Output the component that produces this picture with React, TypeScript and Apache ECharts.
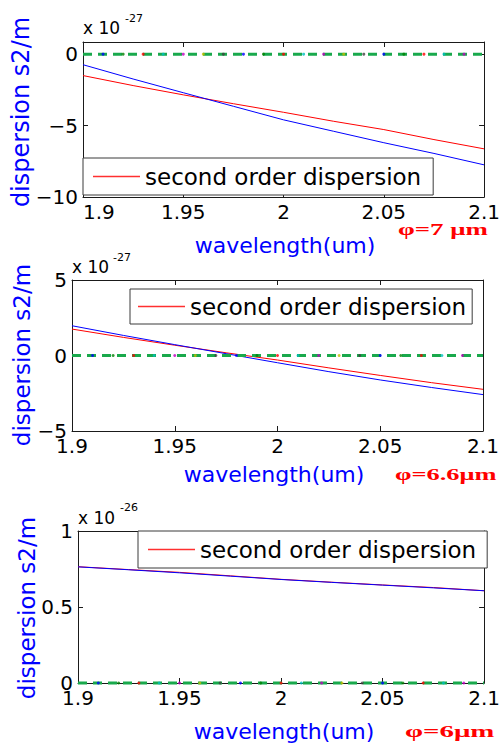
import React, { useEffect, useRef } from 'react';
import * as echarts from 'echarts';

// ---- data ----
const wavelength = [1.9, 1.925, 1.95, 1.975, 2.0, 2.025, 2.05, 2.075, 2.1];

// panel 1 (phi = 7 um), units of 1e-27 s^2/m
const p1Red = [-1.5, -2.2, -2.85, -3.47, -4.07, -4.7, -5.28, -5.98, -6.63];
const p1Blue = [-0.74, -1.74, -2.7, -3.65, -4.6, -5.4, -6.2, -6.95, -7.75];
// panel 2 (phi = 6.6 um), units of 1e-27
const p2Red = [1.75, 1.2, 0.68, 0.18, -0.3, -0.82, -1.32, -1.8, -2.24];
const p2Blue = [1.97, 1.33, 0.72, 0.12, -0.48, -1.07, -1.62, -2.12, -2.59];
// panel 3 (phi = 6 um), units of 1e-26
const p3Red = [0.765, 0.746, 0.728, 0.705, 0.682, 0.663, 0.645, 0.628, 0.607];
const p3Blue = [0.764, 0.745, 0.725, 0.703, 0.681, 0.662, 0.644, 0.626, 0.607];

const zeroLevel = 0;
const xRange = [1.9, 2.1];

const xTickValues = [1.9, 1.95, 2.0, 2.05, 2.1];
const xTickLabels = ['1.9', '1.95', '2', '2.05', '2.1'];
const p1YTicks = [-10, -5, 0];
const p1YLabels = ['\u221210', '\u22125', '0'];
const p2YTicks = [-5, 0, 5];
const p2YLabels = ['\u22125', '0', '5'];
const p3YTicks = [0, 0.5, 1];
const p3YLabels = ['0', '0.5', '1'];

const markerX = [1.91, 1.92, 1.93, 1.94, 1.95, 1.96, 1.97, 1.98, 1.99, 2.0, 2.01, 2.02, 2.03, 2.04, 2.05, 2.06, 2.07, 2.08, 2.09];
const markerColors = ['#0000ff', '#008000', '#ff0000', '#00bfbf', '#bf00bf', '#bfbf00', '#404040',
  '#0000ff', '#008000', '#ff0000', '#00bfbf', '#bf00bf', '#bfbf00', '#404040',
  '#0000ff', '#008000', '#ff0000', '#00bfbf', '#bf00bf'];

const legendName = 'second order dispersion';
const yTitle = 'dispersion s2/m';
const xTitle = 'wavelength(um)';
const panelTags = ['\u03c6=7 \u03bcm', '\u03c6=6.6\u03bcm', '\u03c6=6\u03bcm'];
const exponents = ['-27', '-27', '-26'];

// ---- layout ----
const grids = [
  { left: 83, top: 42, width: 408, height: 155 },
  { left: 72, top: 280, width: 411, height: 151 },
  { left: 78, top: 531, width: 411, height: 152 },
];
const yRanges = [
  { min: -10, max: 0.85, interval: 5, ticks: p1YTicks, labels: p1YLabels },
  { min: -5, max: 5, interval: 5, ticks: p2YTicks, labels: p2YLabels },
  { min: 0, max: 1, interval: 0.5, ticks: p3YTicks, labels: p3YLabels },
];
const redData = [p1Red, p2Red, p3Red];
const blueData = [p1Blue, p2Blue, p3Blue];

const AX = '#1a1a1a';
const FONT = 'DejaVu Sans';

function fmt(values: number[], labels: string[]) {
  return (v: number) => {
    const i = values.findIndex((t) => Math.abs(t - v) < 1e-6);
    return i >= 0 ? labels[i] : '';
  };
}

export default function App() {
  const ref = useRef<HTMLDivElement>(null);
  useEffect(() => {
    if (!ref.current) return;
    document.body.style.margin = '0';
    const chart = echarts.init(ref.current, undefined, { renderer: 'svg' });

    const xAxis: any[] = [];
    const yAxis: any[] = [];
    const series: any[] = [];
    const legend: any[] = [];
    const graphic: any[] = [];

    grids.forEach((g, gi) => {
      const yr = yRanges[gi];
      ['bottom', 'top'].forEach((pos) => {
        xAxis.push({
          type: 'value', gridIndex: gi, position: pos,
          min: xRange[0], max: xRange[1], interval: 0.05,
          axisLine: { show: true, onZero: false, lineStyle: { color: AX, width: 1 } },
          axisTick: { show: true, inside: true, length: 5, lineStyle: { color: AX } },
          splitLine: { show: false },
          axisLabel: pos === 'bottom' ? {
            show: true, margin: 5, fontSize: 20, fontFamily: FONT, color: '#000',
            formatter: fmt(xTickValues, xTickLabels),
            alignMinLabel: gi === 0 ? 'left' : 'center',
          } : { show: false },
        });
      });
      ['left', 'right'].forEach((pos) => {
        yAxis.push({
          type: 'value', gridIndex: gi, position: pos,
          min: yr.min, max: yr.max, interval: yr.interval,
          axisLine: { show: true, onZero: false, lineStyle: { color: AX, width: 1 } },
          axisTick: { show: true, inside: true, length: 5, lineStyle: { color: AX } },
          splitLine: { show: false },
          axisLabel: pos === 'left' ? {
            show: true, margin: 5, fontSize: 20, fontFamily: FONT, color: '#000',
            formatter: fmt(yr.ticks, yr.labels),
          } : { show: false },
        });
      });

      const xi = gi * 2;
      const yi = gi * 2;
      series.push({
        type: 'line', name: legendName, xAxisIndex: xi, yAxisIndex: yi,
        data: wavelength.map((w, k) => [w, redData[gi][k]]),
        showSymbol: false, symbol: 'none', color: '#ff0000',
        lineStyle: { color: '#ff0000', width: 1 }, itemStyle: { color: '#ff0000' },
        z: 3,
      });
      series.push({
        type: 'line', name: 'blue' + gi, xAxisIndex: xi, yAxisIndex: yi,
        data: wavelength.map((w, k) => [w, blueData[gi][k]]),
        showSymbol: false, symbol: 'none', color: '#0000ff',
        lineStyle: { color: '#0000ff', width: 1 }, itemStyle: { color: '#0000ff' },
        z: 4,
      });
      series.push({
        type: 'line', name: 'zero' + gi, xAxisIndex: xi, yAxisIndex: yi,
        data: xRange.map((x) => [x, zeroLevel]),
        showSymbol: false, symbol: 'none', clip: false, color: '#19a94c',
        lineStyle: { color: '#19a94c', width: 3, type: [9, 6] },
        itemStyle: { color: '#19a94c' },
        z: 5,
      });
      series.push({
        type: 'scatter', name: 'markers' + gi, xAxisIndex: xi, yAxisIndex: yi,
        data: markerX.map((x, k) => ({ value: [x, zeroLevel], itemStyle: { color: markerColors[k] } })),
        symbolSize: 3, clip: false, z: 6, silent: true,
      });
    });

    const legendPos = [
      { left: 83, top: 158, padding: [7, 12, 7, 10] },
      { left: 130, top: 289, padding: [6, 6, 6, 8] },
      { left: 138, top: 531, padding: [7, 11, 7, 10] },
    ];
    legendPos.forEach((lp) => {
      legend.push({
        data: [{ name: legendName, icon: 'path://M0 0H47V1.5H0Z', itemStyle: { color: '#ff3030', borderWidth: 0 } }],
        left: lp.left, top: lp.top, padding: lp.padding,
        orient: 'horizontal', selectedMode: false,
        itemWidth: 47, itemHeight: 1.5, itemGap: 0, itemTextGap: 5,
        itemStyle: { color: '#ff3030', borderWidth: 0 },
        borderColor: '#3a3a3a', borderWidth: 1, backgroundColor: '#ffffff',
        textStyle: { fontSize: 23, fontFamily: FONT, color: '#000' },
        z: 10,
      });
    });

    // y titles
    const yTitlePos = [
      { x: 21, y: 112, size: 24 },
      { x: 22, y: 355, size: 23 },
      { x: 27, y: 608, size: 23 },
    ];
    yTitlePos.forEach((p) => {
      graphic.push({
        type: 'text', x: p.x, y: p.y, rotation: Math.PI / 2,
        style: { text: yTitle, fontSize: p.size, fontFamily: FONT, fill: '#0000ff', align: 'center', verticalAlign: 'middle' },
      });
    });
    // x titles
    const xTitlePos = [
      { x: 285, y: 245 },
      { x: 274, y: 474 },
      { x: 284, y: 731 },
    ];
    xTitlePos.forEach((p) => {
      graphic.push({
        type: 'text', x: p.x, y: p.y,
        style: { text: xTitle, fontSize: 22, fontFamily: FONT, fill: '#0000ff', align: 'center', verticalAlign: 'middle' },
      });
    });
    // panel tags (left edges), horizontally stretched bold serif
    const tagPos = [
      { x: 398, y: 230, sx: 1.68, size: 16 },
      { x: 395, y: 475, sx: 1.65, size: 16 },
      { x: 405, y: 731, sx: 1.7, size: 17 },
    ];
    tagPos.forEach((p, i) => {
      graphic.push({
        type: 'text', x: p.x, y: p.y, scaleX: p.sx, originX: 0, originY: 0,
        style: { text: panelTags[i], fontSize: p.size, fontWeight: 'bold', fontFamily: 'Liberation Serif', fill: '#ff0000', align: 'left', verticalAlign: 'middle' },
      });
    });
    // exponent labels
    const expPos = [
      { x: 83, y: 28, sx: 125, sy: 18 },
      { x: 72, y: 267, sx: 113, sy: 257 },
      { x: 78, y: 518, sx: 120, sy: 507 },
    ];
    expPos.forEach((p, i) => {
      graphic.push({
        type: 'text', x: p.x, y: p.y,
        style: { text: 'x 10', fontSize: 17, fontFamily: FONT, fill: '#000', align: 'left', verticalAlign: 'middle' },
      });
      graphic.push({
        type: 'text', x: p.sx, y: p.sy,
        style: { text: exponents[i], fontSize: 11, fontFamily: FONT, fill: '#000', align: 'left', verticalAlign: 'middle' },
      });
    });

    chart.setOption({
      animation: false,
      backgroundColor: '#ffffff',
      grid: grids.map((g) => ({ ...g, containLabel: false })),
      xAxis, yAxis, series, legend, graphic,
      tooltip: { show: false },
    });
    return () => chart.dispose();
  }, []);

  return <div ref={ref} style={{ width: 503, height: 744 }} />;
}
